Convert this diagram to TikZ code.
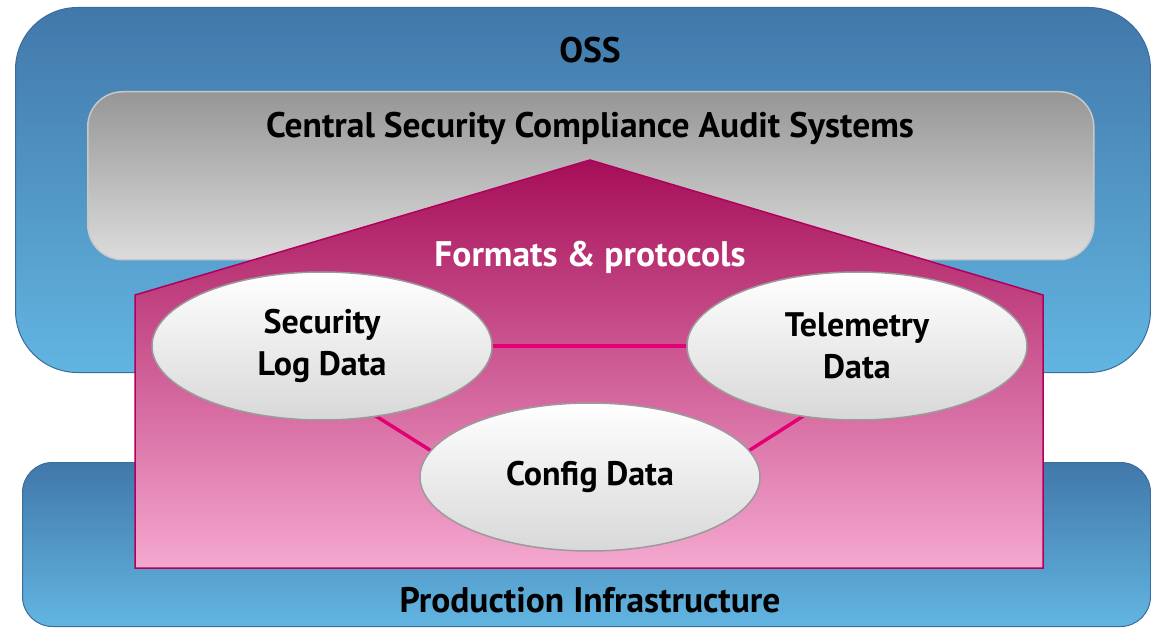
\documentclass[tikz,border=0pt]{standalone}
\usepackage{fontspec}
\setmainfont{PT Sans}
\usetikzlibrary{shapes.geometric}

\definecolor{ossTop}{RGB}{65,120,170}
\definecolor{ossBot}{RGB}{98,181,225}
\definecolor{ossLine}{RGB}{58,108,158}
\definecolor{auditTop}{RGB}{150,150,150}
\definecolor{auditBot}{RGB}{220,220,220}
\definecolor{auditLine}{RGB}{200,200,200}
\definecolor{roofTop}{RGB}{166,14,88}
\definecolor{roofBot}{RGB}{245,168,208}
\definecolor{roofLine}{RGB}{176,0,94}
\definecolor{linkCol}{RGB}{226,0,116}
\definecolor{dataBot}{RGB}{216,216,216}
\definecolor{dataLine}{RGB}{155,155,155}

\pgfdeclarelayer{bg}
\pgfdeclarelayer{links}
\pgfsetlayers{bg,links,main}

\tikzset{
	layerbox/.style={draw=ossLine, line width=1pt, top color=ossTop, bottom color=ossBot, inner sep=0pt},
	auditbox/.style={draw=auditLine, line width=1.5pt, rounded corners=35pt, top color=auditTop, bottom color=auditBot, inner sep=0pt},
	roof/.style={draw=roofLine, line width=1.5pt, top color=roofTop, bottom color=roofBot},
	data/.style={ellipse, draw=dataLine, line width=1.5pt, top color=white, bottom color=dataBot,
		minimum width=340pt, minimum height=148pt, inner sep=0pt, align=center,
		font=\fontsize{34}{42}\selectfont\bfseries},
	title/.style={font=\fontsize{35.5}{42}\selectfont\bfseries, anchor=base},
	link/.style={draw=linkCol, line width=3.5pt}
}

\begin{document}
\begin{tikzpicture}[x=1pt, y=-1pt]
	\useasboundingbox (0, 0) rectangle (1151, 628);

	\begin{pgfonlayer}{bg}
		\node[layerbox, rounded corners=62pt, minimum width=1135pt, minimum height=365pt, anchor=north west] (oss) at (15, 7) {};
		\node[layerbox, rounded corners=30pt, minimum width=1128pt, minimum height=164pt, anchor=north west] (prod) at (22, 462) {};
		\node[auditbox, minimum width=1006pt, minimum height=168pt, anchor=north west] (audit) at (87, 91) {};
		\draw[roof] (135, 568) -- (135, 295) -- (590, 160) -- (1043, 295) -- (1043, 568) -- cycle;
	\end{pgfonlayer}

	\node[title] (osslabel) at (590, 63) {OSS};
	\node[title] (auditlabel) at (590, 138) {Central Security Compliance Audit Systems};
	\node[title, text=white] (rooflabel) at (590, 267) {Formats \& protocols};
	\node[title] (prodlabel) at (590, 612) {Production Infrastructure};

	\node[data] (seclog) at (322, 346) {Security\\Log Data};
	\node[data] (telemetry) at (857, 346) {Telemetry\\Data};
	\node[data] (config) at (590, 477) {Config Data};

	\begin{pgfonlayer}{links}
		\draw[link] (seclog) -- (telemetry);
		\draw[link] ([shift={(38, 60)}]seclog.center) -- ([shift={(-130, -8)}]config.center);
		\draw[link] ([shift={(-38, 60)}]telemetry.center) -- ([shift={(130, -8)}]config.center);
	\end{pgfonlayer}

\end{tikzpicture}
\end{document}
